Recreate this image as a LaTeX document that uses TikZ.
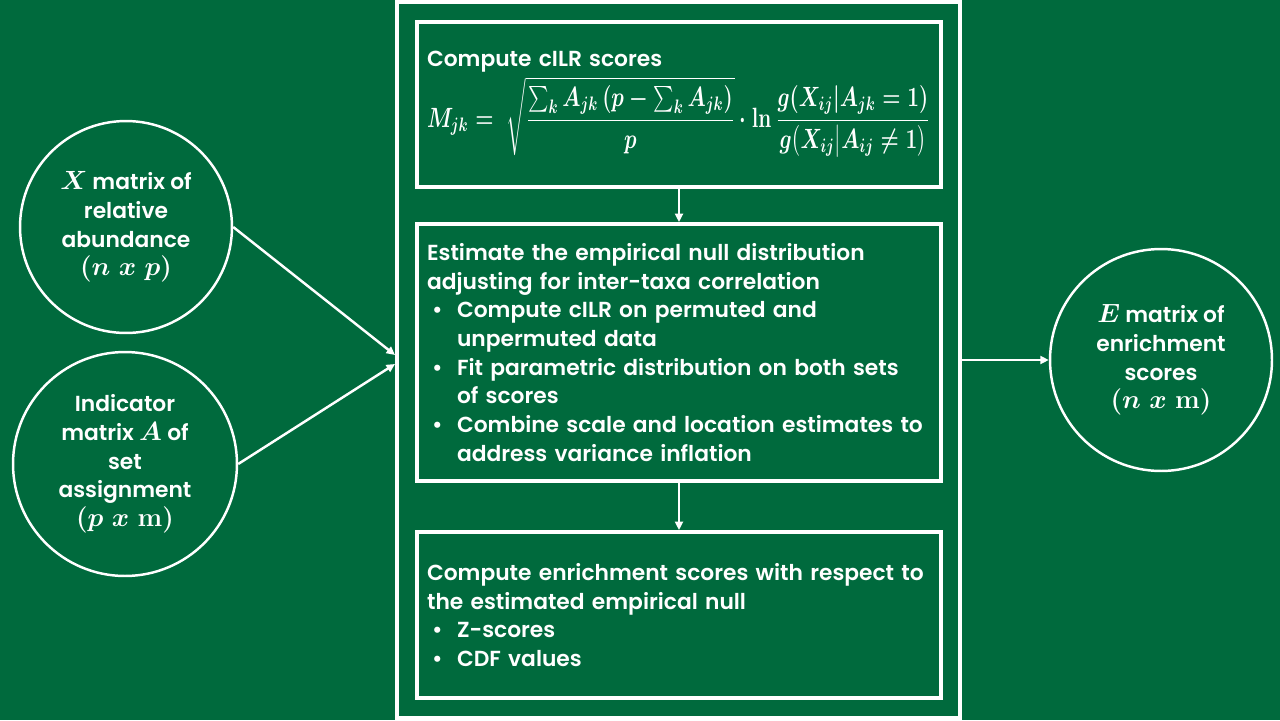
\documentclass[tikz,border=0pt]{standalone}
\usepackage{fix-cm}
\usepackage{amsmath}
\usepackage{graphicx}
\usepackage[no-math]{fontspec}
\setmainfont{Poppins SemiBold}
\usetikzlibrary{arrows.meta,positioning}
\definecolor{SlideGreen}{HTML}{006A3D}
\newcommand{\bulletmark}{\makebox[0.6cm][l]{\hspace{0.1cm}\textbullet}}
\newcommand{\bulletgap}{\hspace*{0.6cm}}
\newcommand{\dimsize}[1]{{\fontsize{15}{16}\selectfont\boldmath$#1$}}

\begin{document}
\begin{tikzpicture}[
    x=0.02cm, y=-0.02cm,
    every node/.style={text=white},
    txt/.style={font=\boldmath\fontsize{12.4}{16.3}\selectfont},
    ring/.style={circle, draw=white, line width=1.4pt, align=center, inner sep=0pt, txt},
    stepbox/.style={draw=white, line width=2.2pt, minimum width=10.48cm,
      text width=10.08cm, inner xsep=0.2cm, align=left, txt},
    arrow/.style={-{Triangle[length=0.17cm,width=0.16cm]}, line width=1.4pt, white}
  ]
    \useasboundingbox[fill=SlideGreen] (0,0) rectangle (1280,720);
    \node[draw=white, line width=2.4pt, minimum width=11.26cm, minimum height=14.32cm]
      (frame) at (678.5,360) {};
    % pipeline steps
    \node[stepbox, minimum height=3.3cm] (cilr) at (679,104.5)
      {Compute cILR scores\\[2pt]
       \scalebox{0.915}[1.22]{\fontsize{13}{16}\selectfont\boldmath$\displaystyle M_{jk} = \;\sqrt{\frac{\sum_k A_{jk}\,(p-\sum_k A_{jk})}{p}}\cdot\ln\frac{g(X_{ij}|A_{jk}=1)}{g\big(X_{ij}\big|A_{ij}\neq 1\big)}$}};
    \node[stepbox, minimum height=5.14cm] (null) at (679,352.5)
      {Estimate the empirical null distribution\\
       adjusting for inter-taxa correlation\\
       \bulletmark Compute cILR on permuted and\\
       \bulletgap unpermuted data\\
       \bulletmark Fit parametric distribution on both sets\\
       \bulletgap of scores\\
       \bulletmark Combine scale and location estimates to\\
       \bulletgap address variance inflation};
    \node[stepbox, minimum height=3.32cm] (enrich) at (679,615)
      {Compute enrichment scores with respect to\\
       the estimated empirical null\\
       \bulletmark Z-scores\\
       \bulletmark CDF values};
    \draw[arrow] (cilr) -- (null);
    \draw[arrow] (null) -- (enrich);
    % inputs and output
    \node[ring, minimum size=4.24cm] (xin) at (126,227)
      {\dimsize{X} matrix of\\ relative\\ abundance\\ \dimsize{(n\;x\;p)}};
    \node[ring, minimum size=4.48cm] (ain) at (125,464)
      {Indicator\\ matrix \dimsize{A} of\\ set\\ assignment\\ \dimsize{(p\;x\;\mathbf{m})}};
    \node[ring, minimum size=4.44cm] (eout) at (1161,360)
      {\dimsize{E} matrix of\\ enrichment\\ scores\\ \dimsize{(n\;x\;\mathbf{m})}};
    \coordinate (in1) at (395,355);
    \coordinate (in2) at (395,364);
    \draw[arrow] (xin.east) -- (in1);
    \draw[arrow] (ain.east) -- (in2);
    \draw[arrow] (frame.east) -- (eout.west);
  \end{tikzpicture}
\end{document}
